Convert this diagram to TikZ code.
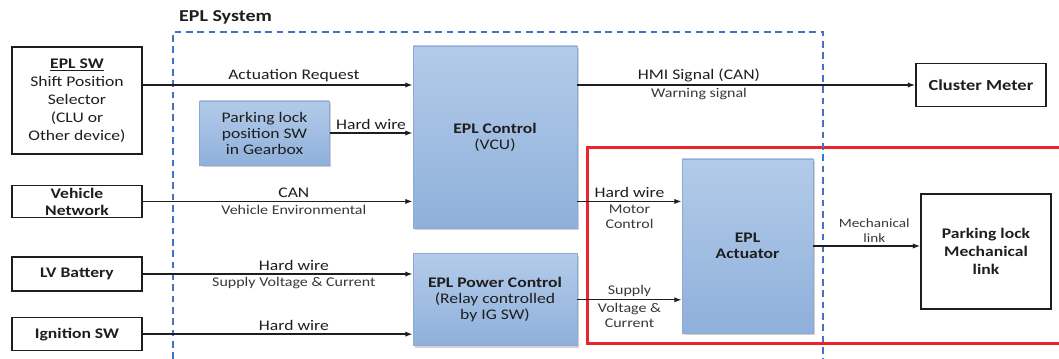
\documentclass[tikz,border=0pt]{standalone}
\usepackage{fontspec}
\setmainfont{Carlito}[FakeStretch=1.2]
\usetikzlibrary{positioning, arrows.meta, shadows}
\definecolor{boxtop}{HTML}{B3CBE9}
\definecolor{boxbottom}{HTML}{8FB0DB}
\definecolor{boxstroke}{HTML}{8EA9D3}
\definecolor{wiregray}{HTML}{1E1E1E}
\definecolor{subtext}{HTML}{383838}
\definecolor{sysblue}{HTML}{4472C4}
\definecolor{scopered}{HTML}{E8252A}

\begin{document}
\begin{tikzpicture}[
    x=0.75pt, y=-0.75pt,
    font=\fontsize{11}{13.5}\selectfont,
    external/.style={rectangle, draw=wiregray, fill=white, text=wiregray, line width=1.2pt, minimum width=97.5pt, align=center, inner xsep=2pt, inner ysep=1pt},
    block/.style={rectangle, draw=boxstroke, top color=boxtop, bottom color=boxbottom, text=wiregray, line width=0.6pt, align=center, font=\fontsize{11}{12}\selectfont, drop shadow={shadow xshift=1.5pt, shadow yshift=-1.5pt, opacity=0.3, fill=black!60}},
    wire/.style={-{Latex[length=5.5pt, width=4pt]}, line width=1pt, draw=wiregray},
    tag/.style={text=wiregray, inner sep=2pt},
    subtag/.style={text=subtext, inner sep=2pt, align=center, font=\fontsize{10}{11.5}\selectfont},
    sysframe/.style={draw=sysblue, line width=1.5pt, dash pattern=on 5pt off 3.5pt},
    scopeframe/.style={draw=scopered, line width=2.25pt}
]
    \useasboundingbox (0,0) rectangle (1059,359);

    % Frames: EPL system (dashed) and actuator scope (red)
    \draw[scopeframe] (1059,148) -- (587,148) -- (587,343) -- (1059,343);
    \draw[sysframe] (173,359) -- (173,32) -- (823,32) -- (823,359);
    \node[font=\bfseries\fontsize{12.5}{14}\selectfont, text=wiregray] (systitle) at (225.5,17) {EPL System};

    % Left column: inputs
    \node[external, minimum height=80pt] (eplsw) at (77,100.5) {\textbf{\underline{EPL SW}}\\Shift Position\\Selector\\(CLU or\\Other device)};
    \node[external, minimum height=24pt, below=22.5pt of eplsw, font=\bfseries\fontsize{11}{12.75}\selectfont] (vnet) {Vehicle\\Network};
    \node[external, minimum height=25.5pt, below=28.5pt of vnet] (lvbat) {\textbf{LV Battery}};
    \node[external, minimum height=24.75pt, below=18.75pt of lvbat] (ignsw) {\textbf{Ignition SW}};

    % EPL system blocks
    \node[block, minimum width=123pt, minimum height=136.5pt] (vcu) at (495,137) {\textbf{EPL Control}\\(VCU)};
    \node[block, minimum width=123pt, minimum height=69pt, below=18.75pt of vcu] (pwrctl) {\textbf{EPL Power Control}\\(Relay controlled\\by IG SW)};
    \node[block, minimum width=97pt, minimum height=48pt] (plsw) at (264.5,133) {Parking lock\\position SW\\in Gearbox};
    \node[block, minimum width=98.25pt, minimum height=130.5pt] (actuator) at (747.5,246) {\textbf{EPL}\\\textbf{Actuator}};

    % Right column: outputs
    \node[external, minimum height=32.25pt, font=\bfseries\fontsize{11.5}{13.5}\selectfont] (cluster) at (981,85) {Cluster Meter};
    \node[external, minimum height=86.25pt, font=\bfseries\fontsize{11}{13.25}\selectfont] (plmech) at (986,251.5) {Parking lock\\Mechanical\\link};

    % Signal flow
    \draw[wire] (eplsw.east |- cluster) -- node[tag, above, pos=0.56] (actreq) {Actuation Request} (vcu.west |- cluster);
    \draw[wire] (plsw.east) -- node[tag, above] (hwgear) {Hard wire} (plsw.east -| vcu.west);
    \draw[wire] (vnet.east) -- node[tag, above, pos=0.56] (canlbl) {CAN} node[subtag, below, pos=0.56] (vehenv) {Vehicle Environmental} (vnet.east -| vcu.west);
    \draw[wire] (lvbat.east) -- node[tag, above, pos=0.56] (hwbat) {Hard wire} node[subtag, below, pos=0.56] (supplybat) {Supply Voltage \& Current} (lvbat.east -| pwrctl.west);
    \draw[wire] (ignsw.east) -- node[tag, above, pos=0.56] (hwign) {Hard wire} (ignsw.east -| pwrctl.west);
    \draw[wire] (vcu.east |- cluster) -- node[tag, above, pos=0.36] (hmi) {HMI Signal (CAN)} node[subtag, below, pos=0.36] (warn) {Warning signal} (cluster.west);
    \draw[wire] (vcu.east |- vnet) -- node[tag, above] (hwmotor) {Hard wire} node[subtag, below] (motor) {Motor\\Control} (actuator.west |- vnet);
    \draw[wire] (pwrctl.east) -- node[subtag, above] (supplyact) {Supply} node[subtag, below] (voltcur) {Voltage \&\\Current} (pwrctl.east -| actuator.west);
    \draw[wire] (actuator.east) -- node[subtag, above, pos=0.57, font=\fontsize{9.5}{11}\selectfont] (mechlbl) {Mechanical\\link} (actuator.east -| plmech.west);

\end{tikzpicture}
\end{document}
